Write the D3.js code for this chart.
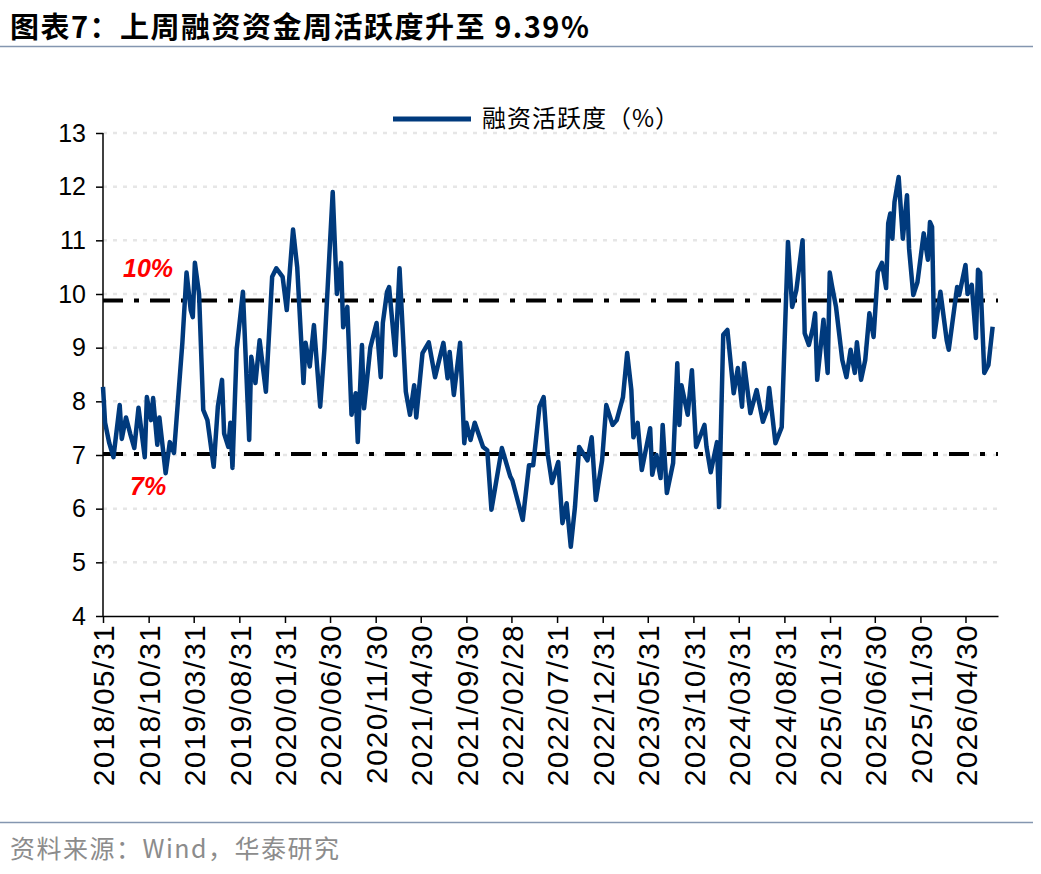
<!DOCTYPE html>
<html><head><meta charset="utf-8">
<script src="https://cdn.jsdelivr.net/npm/d3@7"></script>
<style>
body{margin:0;background:#fff;font-family:"Liberation Sans",Arial,"Noto Sans CJK SC",sans-serif;}
</style></head>
<body><svg id="c" width="1041" height="874"></svg>
<script>
// weekly observations, week index counted from 2018/05/31
let weeks = [0,1,3,5,8,9,11,13,15,17,20,21,23,24,26,27,30,32,34,38,40,42,43,44,46,48,50,53,55,57,58,60,61,62,64,67,70,71,73,75,78,81,83,86,88,91,93,96,97,99,101,104,106,110,112,114,115,117,119,121,122,124,125,128,131,133,134,136,137,140,142,145,147,149,150,153,156,159,163,165,166,168,171,173,
  174,176,178,182,184,186,191,195,196,201,204,206,209,211,213,215,218,220,222,224,226,228,232,234,236,239,241,244,246,249,251,253,254,256,258,262,263,265,267,268,270,273,275,276,277,280,282,284,288,289,291,294,295,297,299,302,304,306,307,310,313,316,318,319,
  322,325,328,330,332,335,336,338,340,341,342,345,347,348,349,351,354,356,358,360,361,363,365,367,369,371,373,375,376,377,378,379,381,383,385,386,388,390,393,395,396,397,398,401,404,405,409,410,413,414,416,418,419,420,422,424,426,428];
let values = [8.27,7.6,7.22,6.96,7.93,7.3,7.7,7.4,7.13,7.88,6.96,8.08,7.65,8.06,7.19,7.7,6.66,7.24,7.04,9.09,10.4,9.7,9.57,10.58,10.0,7.84,7.65,6.78,7.9,8.4,7.4,7.15,7.6,6.76,8.96,10.04,7.28,8.83,8.34,9.14,8.18,10.32,10.48,10.32,9.7,11.2,10.5,8.34,9.09,8.65,9.42,7.9,8.96,11.9,10.0,10.58,9.38,9.76,7.75,8.15,7.24,9.05,7.87,9.0,9.46,8.45,9.46,10.04,10.13,8.86,10.48,8.18,7.75,8.3,7.7,8.9,9.1,8.45,9.09,8.43,8.92,8.12,9.09,7.22,
  7.6,7.28,7.6,7.15,7.09,5.98,7.13,6.6,6.53,5.79,6.81,6.81,7.9,8.08,7.0,6.48,6.87,5.73,6.1,5.29,6.03,7.15,6.9,7.33,6.16,6.9,7.93,7.56,7.65,8.08,8.9,8.21,7.33,7.6,6.72,7.5,6.63,7.0,6.57,7.56,6.29,6.85,8.71,7.56,8.3,7.75,8.58,7.15,7.56,7.15,6.68,7.24,6.03,9.24,9.33,8.15,8.62,7.9,8.71,7.78,8.21,7.62,7.84,
  8.25,7.22,7.52,10.97,9.76,10.07,11.0,9.27,9.05,9.38,9.64,8.4,9.52,8.53,10.4,10.17,9.76,8.77,8.45,8.96,8.53,9.1,8.4,8.77,9.64,9.2,10.41,10.58,10.11,11.32,11.5,11.03,11.71,12.18,11.03,11.84,10.84,9.98,10.22,11.13,10.64,11.34,11.25,9.2,10.04,9.14,8.96,10.13,9.98,10.54,10.0,10.17,9.18,10.45,10.4,8.53,8.68,9.39];
let tickLabels = ["2018/05/31","2018/10/31","2019/03/31","2019/08/31","2020/01/31","2020/06/30","2020/11/30","2021/04/30","2021/09/30","2022/02/28","2022/07/31","2022/12/31","2023/05/31","2023/10/31","2024/03/31","2024/08/31","2025/01/31","2025/06/30","2025/11/30","2026/04/30"];
let refLines = [{v:9.88, label:"10%"},{v:7.02, label:"7%"}];
let seriesName = "融资活跃度（%）";

let parse = d3.timeParse("%Y/%m/%d");
let start = parse("2018/05/31");
let data = weeks.map((w,i) => ({date: d3.timeDay.offset(start, w*7), value: values[i]}));

let svg = d3.select("#c");
let L = 103, R = 998, T = 133, B = 616;
let x = d3.scaleTime().domain([start, d3.timeDay.offset(start, 428.6*7)]).range([L, R]);
let y = d3.scaleLinear().domain([4, 13]).range([B, T]);

// title
svg.append("text").attr("x", 10).attr("y", 38).attr("font-size", 29).attr("font-weight", "bold")
  .attr("font-family", "'Noto Sans CJK SC',sans-serif").attr("fill", "#000").attr("letter-spacing", 1.5)
  .text("图表7：上周融资资金周活跃度升至 9.39%");
svg.append("line").attr("x1", 0).attr("x2", 1033).attr("y1", 46.5).attr("y2", 46.5).attr("stroke", "#8496b0").attr("stroke-width", 1.5);
svg.append("line").attr("x1", 0).attr("x2", 1033).attr("y1", 822.5).attr("y2", 822.5).attr("stroke", "#8496b0").attr("stroke-width", 1.5);
svg.append("text").attr("x", 10).attr("y", 858).attr("font-size", 25).attr("fill", "#8c8c8c").attr("letter-spacing", 1.5)
  .attr("font-family", "'Noto Sans CJK SC',sans-serif").text("资料来源：Wind，华泰研究");

// grid
svg.append("g").selectAll("line").data(d3.range(5, 14)).join("line")
  .attr("x1", L).attr("x2", R).attr("y1", d => y(d)).attr("y2", d => y(d))
  .attr("stroke", "#e6e6e6").attr("stroke-width", 2.5).attr("stroke-dasharray", "4,6");

// y axis
let ya = svg.append("g").attr("transform", `translate(${L},0)`).call(d3.axisLeft(y).ticks(9).tickSize(7).tickPadding(10));
ya.selectAll("text").attr("font-size", 25).attr("fill", "#000");
ya.selectAll("line,path").attr("stroke", "#000").attr("stroke-width", 1.5);
ya.select("path").attr("d", `M0,${T}V${B}`);

// x axis
let tickDates = tickLabels.map(parse);
let xa = svg.append("g").attr("transform", `translate(0,${B})`)
  .call(d3.axisBottom(x).tickValues(tickDates).tickFormat(d3.timeFormat("%Y/%m/%d")).tickSize(7).tickSizeOuter(0));
xa.selectAll("line,path").attr("stroke", "#000").attr("stroke-width", 1.5);
xa.selectAll("text").attr("font-size", 30).attr("fill", "#000").attr("letter-spacing", 1.2)
  .attr("transform", "rotate(-90)").attr("text-anchor", "end").attr("dx", "0").attr("dy", "0.36em").attr("y", 0).attr("x", -8);

// reference lines
svg.append("g").selectAll("line").data(refLines).join("line")
  .attr("x1", L).attr("x2", R).attr("y1", d => y(d.v)).attr("y2", d => y(d.v))
  .attr("stroke", "#000").attr("stroke-width", 4).attr("stroke-dasharray", "20,11,5,11");
svg.append("text").attr("x", 123).attr("y", 277).attr("fill", "#ff0000").attr("font-size", 25)
  .attr("font-weight", "bold").attr("font-style", "italic").text(refLines[0].label);
svg.append("text").attr("x", 130).attr("y", 495).attr("fill", "#ff0000").attr("font-size", 25)
  .attr("font-weight", "bold").attr("font-style", "italic").text(refLines[1].label);

// series
svg.append("path").datum(data)
  .attr("d", d3.line().x(d => x(d.date)).y(d => y(d.value)))
  .attr("fill", "none").attr("stroke", "#003a7d").attr("stroke-width", 4.5).attr("stroke-linejoin", "round");

// legend
svg.append("line").attr("x1", 393).attr("x2", 471).attr("y1", 119).attr("y2", 119).attr("stroke", "#003a7d").attr("stroke-width", 5);
svg.append("text").attr("x", 482).attr("y", 127).attr("font-size", 24).attr("letter-spacing", 1)
  .attr("font-family", "'Noto Sans CJK SC',sans-serif").text(seriesName);
</script></body></html>
